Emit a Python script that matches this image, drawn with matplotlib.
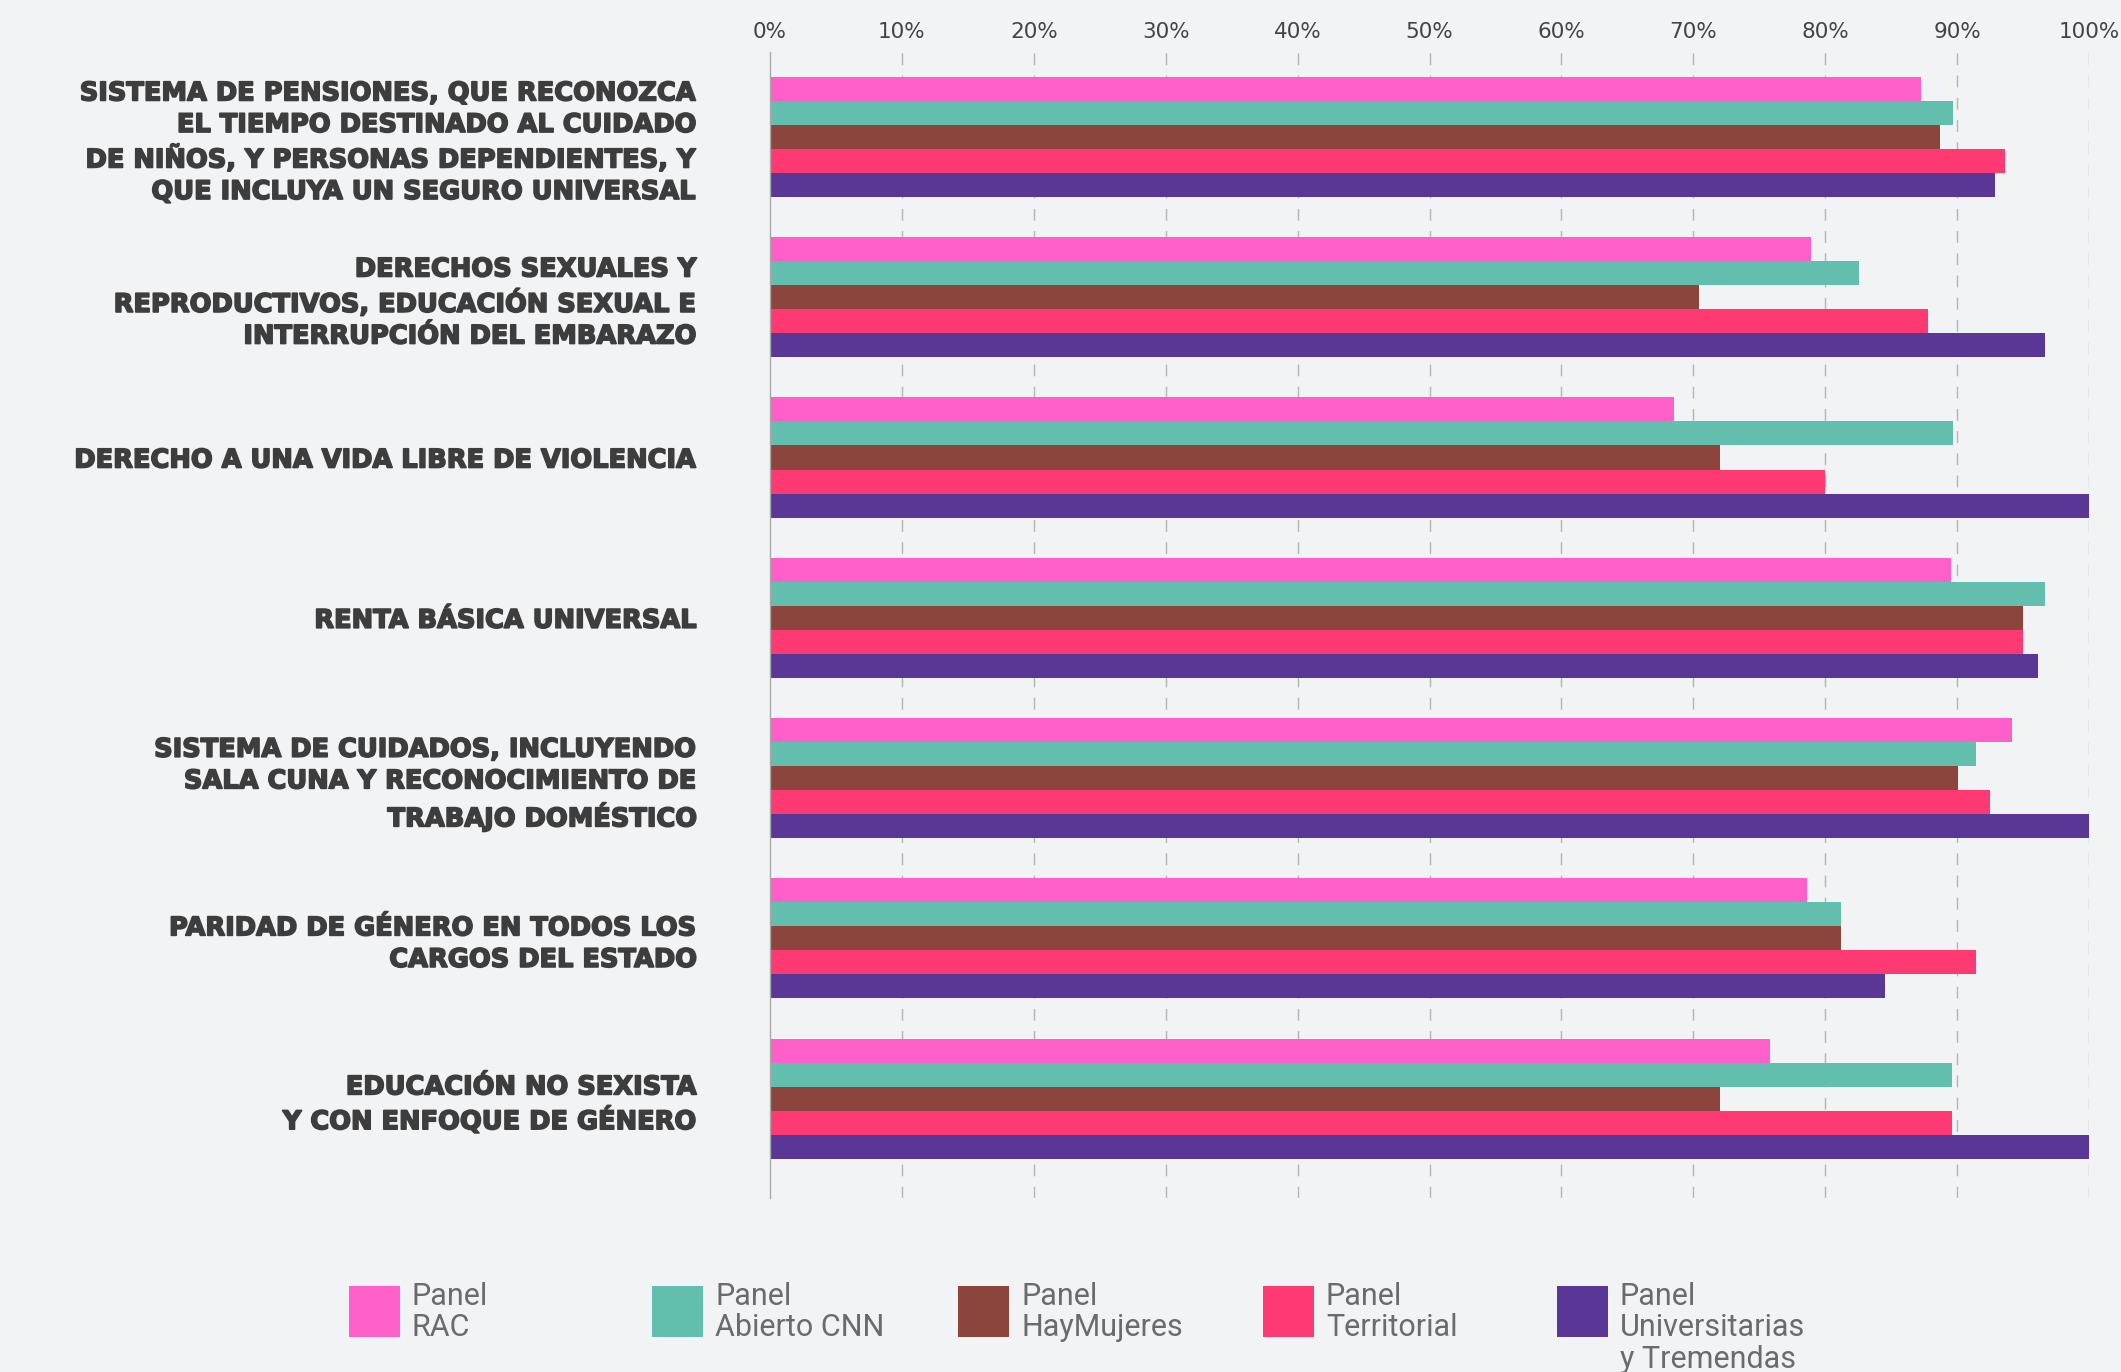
import matplotlib
matplotlib.use("Agg")
import matplotlib.pyplot as plt
from matplotlib.patches import Rectangle
import matplotlib.patheffects as pe
import numpy as np

categories = [
    "SISTEMA DE PENSIONES, QUE RECONOZCA\nEL TIEMPO DESTINADO AL CUIDADO\nDE NIÑOS, Y PERSONAS DEPENDIENTES, Y\nQUE INCLUYA UN SEGURO UNIVERSAL",
    "DERECHOS SEXUALES Y\nREPRODUCTIVOS, EDUCACIÓN SEXUAL E\nINTERRUPCIÓN DEL EMBARAZO",
    "DERECHO A UNA VIDA LIBRE DE VIOLENCIA",
    "RENTA BÁSICA UNIVERSAL",
    "SISTEMA DE CUIDADOS, INCLUYENDO\nSALA CUNA Y RECONOCIMIENTO DE\nTRABAJO DOMÉSTICO",
    "PARIDAD DE GÉNERO EN TODOS LOS\nCARGOS DEL ESTADO",
    "EDUCACIÓN NO SEXISTA\nY CON ENFOQUE DE GÉNERO",
]

series_names = [
    "Panel\nRAC",
    "Panel\nAbierto CNN",
    "Panel\nHayMujeres",
    "Panel\nTerritorial",
    "Panel\nUniversitarias\ny Tremendas",
]

panel_rac = [87.3, 78.9, 68.5, 89.5, 94.2, 78.6, 75.8]
panel_cnn = [89.7, 82.6, 89.7, 96.7, 91.4, 81.2, 89.6]
panel_haymujeres = [88.7, 70.4, 72.0, 95.0, 90.1, 81.2, 72.0]
panel_territorial = [93.6, 87.8, 80.0, 95.0, 92.5, 91.4, 89.6]
panel_universitarias = [92.9, 96.7, 100.0, 96.1, 100.0, 84.5, 100.0]

x_ticks = [0, 10, 20, 30, 40, 50, 60, 70, 80, 90, 100]
x_tick_labels = ["0%", "10%", "20%", "30%", "40%", "50%", "60%", "70%", "80%", "90%", "100%"]

values = [panel_rac, panel_cnn, panel_haymujeres, panel_territorial, panel_universitarias]
colors = ["#FF5FC9", "#62BFAD", "#8B453C", "#FF3A73", "#5A3797"]
bg = "#F2F3F5"

W, H = 2121, 1372
fig = plt.figure(figsize=(W / 100, H / 100), dpi=100, facecolor=bg)
ax = fig.add_axes([770 / W, 1 - 1198 / H, (2089 - 770) / W, (1198 - 52) / H])
ax.set_facecolor(bg)

y = np.arange(len(categories))
bh = 0.15
for j, (vals, c) in enumerate(zip(values, colors)):
    ax.barh(y + (j - 2) * bh, vals, height=bh, color=c, zorder=3, linewidth=0)

ax.set_xlim(0, 100)
ax.set_ylim(6.62, -0.53)

ax.set_xticks(x_ticks)
ax.set_xticklabels(x_tick_labels, fontsize=15.5, color="#444444", family="DejaVu Sans")
ax.xaxis.tick_top()
ax.tick_params(axis="x", length=0, pad=7)
for xv in x_ticks[1:]:
    ax.axvline(xv, color="#B4B7B1", lw=1.0, dashes=(8.5, 7.5), zorder=1)

ax.set_yticks(y)
ax.set_yticklabels(categories, fontsize=18.5, fontweight="bold", color="#3D3D3D",
                   family="DejaVu Sans", linespacing=1.28)
for t in ax.get_yticklabels():
    t.set_path_effects([pe.withStroke(linewidth=1.2, foreground="#3D3D3D")])
ax.tick_params(axis="y", length=0, pad=52)

for s in ["top", "right", "bottom"]:
    ax.spines[s].set_visible(False)
ax.spines["left"].set_color("#A8ABA5")
ax.spines["left"].set_linewidth(1.0)
ax.spines["left"].set_zorder(4)

# legend
leg_x = [349, 652, 958, 1263, 1557]
for lx, name, c in zip(leg_x, series_names, colors):
    fig.add_artist(Rectangle((lx / W, 1 - 1337 / H), 51 / W, 51 / H,
                             transform=fig.transFigure, color=c, lw=0))
    fig.text((lx + 63) / W, 1 - 1282 / H, name, fontsize=22, color="#6B6B6B",
             family="Roboto", va="top", ha="left", linespacing=1.1)

fig.savefig("out.png", dpi=100, facecolor=bg)
